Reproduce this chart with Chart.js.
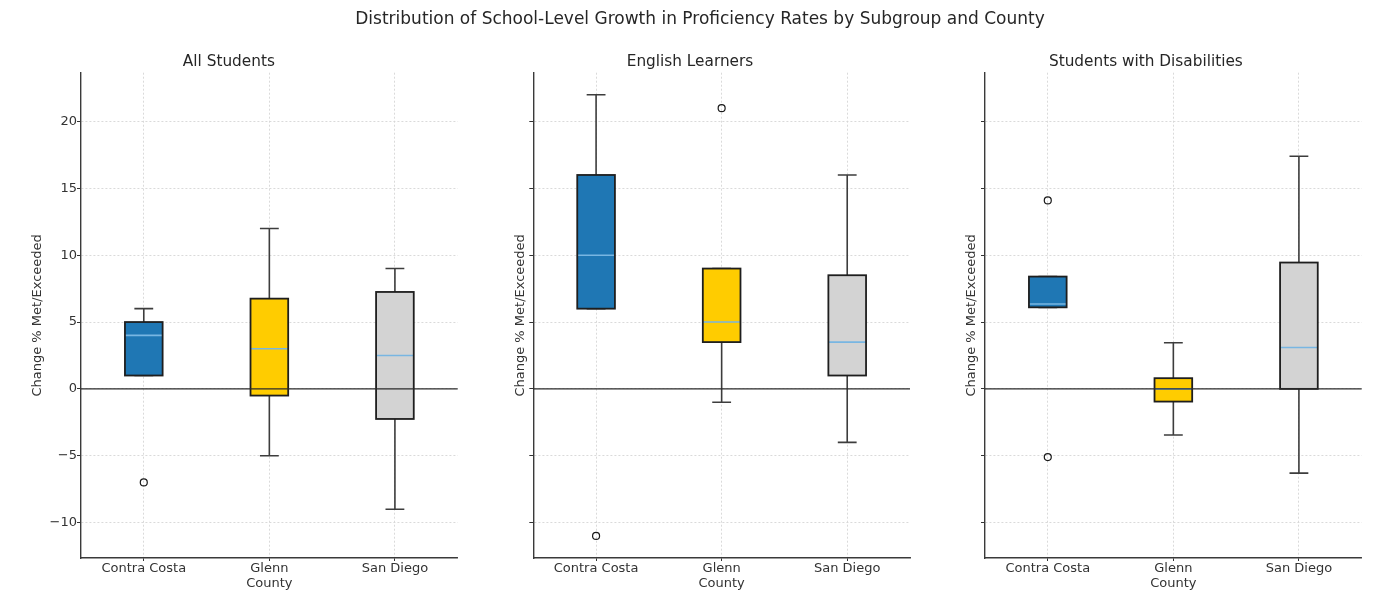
<!DOCTYPE html>
<html>
<head>
<meta charset="utf-8">
<title>School-Level Growth by Subgroup and County</title>
<script src="https://cdn.jsdelivr.net/npm/chart.js@4.4.0/dist/chart.umd.min.js"></script>
<style>
  html, body { margin: 0; padding: 0; background: #ffffff; }
  #figure { position: relative; width: 1379px; height: 591px; overflow: hidden; background: #ffffff; }
  #suptitle {
    position: absolute; left: 0; top: 7px; width: 1400px; text-align: center;
    font: 17px 'DejaVu Sans', sans-serif; color: #262626; line-height: 22px; z-index: 2;
  }
  .panel { position: absolute; top: 0; height: 591px; }
  .panel canvas { display: block; }
</style>
</head>
<body>
<div id="figure">
  <div id="suptitle">Distribution of School-Level Growth in Proficiency Rates by Subgroup and County</div>
  <div class="panel" style="left:0px;width:470px"><canvas id="panel0" width="470" height="591"></canvas></div>
  <div class="panel" style="left:470px;width:460px"><canvas id="panel1" width="460" height="591"></canvas></div>
  <div class="panel" style="left:930px;width:449px"><canvas id="panel2" width="449" height="591"></canvas></div>
</div>
<script>
// ---- data ----
const counties = ['Contra Costa', 'Glenn', 'San Diego'];
const subgroups = ['All Students', 'English Learners', 'Students with Disabilities'];
const yTickValues = [-10, -5, 0, 5, 10, 15, 20];

// All Students
const allLowerWhisker = [1, -5, -9];
const allQ1 = [1, -0.5, -2.25];
const allMedian = [4, 3, 2.5];
const allQ3 = [5, 6.75, 7.25];
const allUpperWhisker = [6, 12, 9];
const allOutliers = [[-7], [], []];

// English Learners
const elLowerWhisker = [6, -1, -4];
const elQ1 = [6, 3.5, 1];
const elMedian = [10, 5, 3.5];
const elQ3 = [16, 9, 8.5];
const elUpperWhisker = [22, 9, 16];
const elOutliers = [[-11], [21], []];

// Students with Disabilities
const swdLowerWhisker = [6.1, -3.45, -6.3];
const swdQ1 = [6.1, -0.95, 0];
const swdMedian = [6.35, 0, 3.1];
const swdQ3 = [8.4, 0.8, 9.45];
const swdUpperWhisker = [8.4, 3.45, 17.4];
const swdOutliers = [[14.1, -5.1], [], []];

// ---- styling ----
const countyColors = ['#1f77b4', '#ffcc00', '#d3d3d3'];
const FONT = "'DejaVu Sans', sans-serif";
const TEXT = '#333333';

const panelStats = [
  { low: allLowerWhisker, q1: allQ1, med: allMedian, q3: allQ3, high: allUpperWhisker, out: allOutliers },
  { low: elLowerWhisker, q1: elQ1, med: elMedian, q3: elQ3, high: elUpperWhisker, out: elOutliers },
  { low: swdLowerWhisker, q1: swdQ1, med: swdMedian, q3: swdQ3, high: swdUpperWhisker, out: swdOutliers }
];

// shared y range: full data extent plus a 5% margin on each side
const allValues = panelStats.flatMap(s => [...s.low, ...s.high, ...s.out.flat()]);
const dataMin = Math.min(...allValues), dataMax = Math.max(...allValues);
const pad = (dataMax - dataMin) * 0.05;
const yMin = dataMin - pad, yMax = dataMax + pad;

// plot-area placement inside each canvas
const layouts = [
  { canvasLeft: 0,   width: 470, areaLeft: 81,    areaRight: 457.7, yTitleX: 38,  showYLabels: true },
  { canvasLeft: 470, width: 460, areaLeft: 533.3, areaRight: 910,   yTitleX: 521, showYLabels: false },
  { canvasLeft: 930, width: 449, areaLeft: 985,   areaRight: 1361.7, yTitleX: 972, showYLabels: false }
];
const AREA_TOP = 72.7, AREA_BOTTOM = 558, CANVAS_H = 591;

// whiskers under the boxes; box outlines, medians and the zero reference line over them
const boxPartsPlugin = {
  id: 'boxParts',
  beforeDatasetsDraw(chart, args, opts) {
    const s = opts.stats; const y = chart.scales.y; const ctx = chart.ctx;
    const bars = chart.getDatasetMeta(0).data;
    ctx.save();
    ctx.strokeStyle = '#3d3d3d';
    ctx.lineWidth = 1.6;
    bars.forEach((bar, i) => {
      const cx = bar.x, half = bar.width / 4;
      const yl = y.getPixelForValue(s.low[i]), y1 = y.getPixelForValue(s.q1[i]);
      const y3 = y.getPixelForValue(s.q3[i]), yh = y.getPixelForValue(s.high[i]);
      ctx.beginPath();
      ctx.moveTo(cx, y1); ctx.lineTo(cx, yl);
      ctx.moveTo(cx, y3); ctx.lineTo(cx, yh);
      ctx.moveTo(cx - half, yl); ctx.lineTo(cx + half, yl);
      ctx.moveTo(cx - half, yh); ctx.lineTo(cx + half, yh);
      ctx.stroke();
    });
    ctx.restore();
  },
  afterDatasetsDraw(chart, args, opts) {
    const s = opts.stats; const y = chart.scales.y; const ctx = chart.ctx;
    const bars = chart.getDatasetMeta(0).data;
    ctx.save();
    bars.forEach((bar, i) => {
      const left = bar.x - bar.width / 2, right = bar.x + bar.width / 2;
      const y1 = y.getPixelForValue(s.q1[i]), y3 = y.getPixelForValue(s.q3[i]);
      const ym = y.getPixelForValue(s.med[i]);
      ctx.strokeStyle = '#78b6e2';
      ctx.lineWidth = 1.6;
      ctx.beginPath();
      ctx.moveTo(left, ym);
      ctx.lineTo(right, ym);
      ctx.stroke();
      ctx.strokeStyle = '#1e1e1e';
      ctx.lineWidth = 1.8;
      ctx.strokeRect(left, y3, right - left, y1 - y3);
    });
    const area = chart.chartArea;
    const y0 = y.getPixelForValue(0);
    ctx.strokeStyle = '#2b2b2b';
    ctx.lineWidth = 1.2;
    ctx.beginPath();
    ctx.moveTo(area.left, y0);
    ctx.lineTo(area.right, y0);
    ctx.stroke();
    ctx.restore();
  }
};

subgroups.forEach((name, p) => {
  const s = panelStats[p];
  const L = layouts[p];
  const outlierPoints = counties.flatMap((c, i) => s.out[i].map(v => ({ x: c, y: v })));

  new Chart(document.getElementById('panel' + p), {
    type: 'bar',
    data: {
      labels: counties,
      datasets: [
        {
          type: 'bar',
          data: s.q1.map((v, i) => [v, s.q3[i]]),
          backgroundColor: countyColors,
          borderWidth: 0,
          borderSkipped: false,
          barPercentage: 0.3,
          categoryPercentage: 1.0,
          order: 2
        },
        {
          type: 'line',
          data: outlierPoints,
          showLine: false,
          pointStyle: 'circle',
          pointRadius: 3.5,
          pointBackgroundColor: 'rgba(255,255,255,0)',
          pointBorderColor: '#1a1a1a',
          pointBorderWidth: 1.2,
          order: 1
        }
      ]
    },
    options: {
      responsive: false,
      animation: false,
      events: [],
      layout: {
        padding: { left: 0, top: 0, bottom: 0, right: L.width - (L.areaRight - L.canvasLeft) }
      },
      plugins: {
        legend: { display: false },
        tooltip: { enabled: false },
        title: {
          display: true,
          text: name,
          color: '#262626',
          font: { family: FONT, size: 15.3, weight: 'normal', lineHeight: 1.2 },
          padding: { top: 52.5, bottom: AREA_TOP - 52.5 - 15.3 * 1.2 }
        },
        boxParts: { stats: s }
      },
      scales: {
        x: {
          type: 'category',
          offset: true,
          grid: {
            offset: false,
            color: '#d6d6d6',
            lineWidth: 0.9,
            drawTicks: true,
            tickLength: 3,
            tickColor: '#333333',
            tickWidth: 1
          },
          border: { display: true, color: '#3a3a3a', width: 1.4, dash: [2, 2] },
          ticks: { color: TEXT, padding: 0, font: { family: FONT, size: 13 }, maxRotation: 0 },
          title: {
            display: true, text: 'County', color: TEXT,
            font: { family: FONT, size: 13, lineHeight: 1.2 },
            padding: { top: 0, bottom: 0 }
          },
          afterFit(scale) { scale.height = CANVAS_H - AREA_BOTTOM; }
        },
        y: {
          type: 'linear',
          min: yMin,
          max: yMax,
          afterBuildTicks(scale) { scale.ticks = yTickValues.map(v => ({ value: v })); },
          grid: {
            color: '#d6d6d6',
            lineWidth: 0.9,
            drawTicks: true,
            tickLength: 4,
            tickColor: '#333333',
            tickWidth: 1
          },
          border: { display: true, color: '#3a3a3a', width: 1.4, dash: [2, 2] },
          ticks: {
            color: TEXT, padding: 0, font: { family: FONT, size: 13 },
            callback: (v) => L.showYLabels ? (v < 0 ? '\u2212' + Math.abs(v) : String(v)) : ''
          },
          title: {
            display: true, text: 'Change % Met/Exceeded', color: TEXT,
            font: { family: FONT, size: 13, lineHeight: 1.2 },
            padding: { top: (L.yTitleX - L.canvasLeft) - 7.8, bottom: 0 }
          },
          afterFit(scale) { scale.width = L.areaLeft - L.canvasLeft; }
        }
      }
    },
    plugins: [boxPartsPlugin]
  });
});
</script>
</body>
</html>
